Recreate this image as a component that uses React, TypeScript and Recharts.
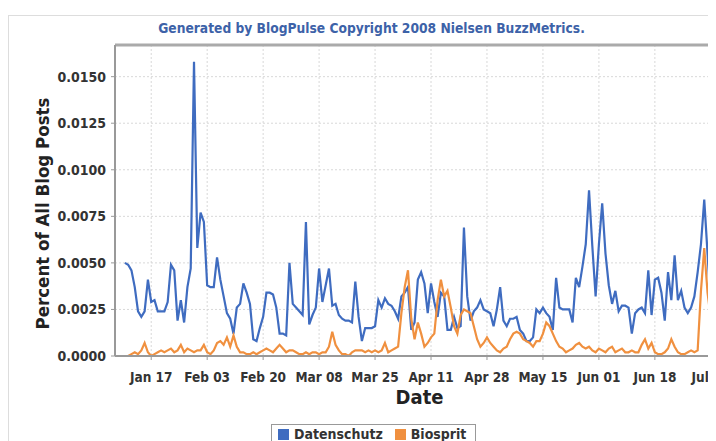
import {
  LineChart,
  Line,
  XAxis,
  YAxis,
  CartesianGrid,
  Legend,
  ReferenceLine,
} from "recharts";

const FONT = "'DejaVu Sans Condensed', 'DejaVu Sans', sans-serif";

// days are counted from Jan 17 (2008)
const tickDays = [0, 17, 34, 51, 68, 85, 102, 119, 136, 153, 170];
const tickLabels = [
  "Jan 17", "Feb 03", "Feb 20", "Mar 08", "Mar 25", "Apr 11",
  "Apr 28", "May 15", "Jun 01", "Jun 18", "Jul 05",
];
const yTicks = [0, 0.0025, 0.005, 0.0075, 0.01, 0.0125, 0.015];
const yMax = 0.0167;
const firstDay = -8; // Jan 09
const seriesOrder = ["Datenschutz", "Biosprit"];

const datenschutz = [
  0.0050, 0.0049, 0.0046, 0.0037, 0.0024, 0.0021, 0.0024, 0.0041,
  0.0029, 0.0030, 0.0024, 0.0024, 0.0024, 0.0029, 0.0049, 0.0046, 0.0019, 0.0030,
  0.0018, 0.0037, 0.0047, 0.0158, 0.0058, 0.0077, 0.0072, 0.0038, 0.0037, 0.0037,
  0.0053, 0.0041, 0.0032, 0.0023, 0.0020, 0.0012, 0.0026, 0.0028, 0.0039, 0.0034,
  0.0028, 0.0009, 0.0008, 0.0015, 0.0021, 0.0034, 0.0034, 0.0033, 0.0026, 0.0012,
  0.0012, 0.0011, 0.0050, 0.0028, 0.0026, 0.0024, 0.0022, 0.0072, 0.0017, 0.0022,
  0.0026, 0.0047, 0.0029, 0.0038, 0.0047, 0.0027, 0.0028, 0.0022, 0.0020, 0.0019,
  0.0019, 0.0018, 0.0040, 0.0021, 0.0008, 0.0015, 0.0015, 0.0015, 0.0016, 0.0030,
  0.0026, 0.0031, 0.0028, 0.0027, 0.0024, 0.0020, 0.0032, 0.0034, 0.0037, 0.0014,
  0.0018, 0.0041, 0.0045, 0.0039, 0.0023, 0.0039, 0.0029, 0.0021, 0.0034, 0.0032,
  0.0014, 0.0014, 0.0021, 0.0015, 0.0016, 0.0069, 0.0032, 0.0019, 0.0024, 0.0026,
  0.0030, 0.0025, 0.0024, 0.0023, 0.0016, 0.0025, 0.0037, 0.0019, 0.0016, 0.0020,
  0.0020, 0.0021, 0.0014, 0.0012, 0.0008, 0.0008, 0.0010, 0.0025, 0.0023, 0.0026,
  0.0023, 0.0021, 0.0014, 0.0042, 0.0026, 0.0025, 0.0025, 0.0025, 0.0018, 0.0042,
  0.0037, 0.0048, 0.0060, 0.0089, 0.0059, 0.0032, 0.0060, 0.0082, 0.0055, 0.0038,
  0.0028, 0.0035, 0.0024, 0.0027, 0.0027, 0.0026, 0.0012, 0.0023, 0.0025, 0.0026,
  0.0023, 0.0046, 0.0022, 0.0041, 0.0042, 0.0034, 0.0019, 0.0045, 0.0030, 0.0054,
  0.0030, 0.0035, 0.0026, 0.0023, 0.0026, 0.0032, 0.0045, 0.0060, 0.0084, 0.0055,
  0.0026,
];

const biosprit = [
  0.0000, 0.0000, 0.0001, 0.0002, 0.0001, 0.0003, 0.0007, 0.0002,
  0.0000, 0.0001, 0.0002, 0.0003, 0.0002, 0.0003, 0.0004, 0.0002, 0.0003, 0.0006,
  0.0002, 0.0004, 0.0003, 0.0002, 0.0003, 0.0003, 0.0006, 0.0002, 0.0001, 0.0003,
  0.0007, 0.0008, 0.0006, 0.0010, 0.0005, 0.0011, 0.0005, 0.0002, 0.0002, 0.0001,
  0.0001, 0.0002, 0.0001, 0.0002, 0.0003, 0.0004, 0.0003, 0.0002, 0.0004, 0.0006,
  0.0004, 0.0002, 0.0003, 0.0003, 0.0002, 0.0001, 0.0001, 0.0002, 0.0001, 0.0002,
  0.0002, 0.0001, 0.0002, 0.0002, 0.0005, 0.0013, 0.0006, 0.0003, 0.0001, 0.0001,
  0.0000, 0.0002, 0.0003, 0.0003, 0.0003, 0.0002, 0.0003, 0.0002, 0.0003, 0.0002,
  0.0003, 0.0007, 0.0002, 0.0003, 0.0004, 0.0005, 0.0023, 0.0037, 0.0046, 0.0020,
  0.0009, 0.0018, 0.0012, 0.0005, 0.0007, 0.0010, 0.0012, 0.0030, 0.0041, 0.0032,
  0.0035, 0.0026, 0.0016, 0.0012, 0.0022, 0.0025, 0.0024, 0.0023, 0.0016, 0.0009,
  0.0005, 0.0007, 0.0010, 0.0007, 0.0005, 0.0003, 0.0002, 0.0004, 0.0005, 0.0009,
  0.0012, 0.0013, 0.0012, 0.0009, 0.0008, 0.0007, 0.0005, 0.0008, 0.0008, 0.0012,
  0.0018, 0.0016, 0.0012, 0.0008, 0.0005, 0.0004, 0.0002, 0.0003, 0.0004, 0.0006,
  0.0007, 0.0005, 0.0004, 0.0005, 0.0003, 0.0002, 0.0004, 0.0003, 0.0002, 0.0004,
  0.0005, 0.0002, 0.0003, 0.0004, 0.0002, 0.0002, 0.0003, 0.0002, 0.0002, 0.0006,
  0.0009, 0.0004, 0.0007, 0.0002, 0.0001, 0.0001, 0.0002, 0.0004, 0.0009, 0.0005,
  0.0002, 0.0001, 0.0001, 0.0002, 0.0003, 0.0002, 0.0003, 0.0035, 0.0058, 0.0034,
  0.0020,
];

const data = datenschutz.map((v, i) => ({
  day: firstDay + i,
  datenschutz: v,
  biosprit: biosprit[i],
}));

const BLUE = "#3f6cc0";
const ORANGE = "#f0903f";

const DateLabel = ({ viewBox }: any) => (
  <text
    x={viewBox.x + viewBox.width / 2}
    y={viewBox.y + 48}
    textAnchor="middle"
    fontFamily={FONT}
    fontWeight="bold"
    fontSize={20}
    fill="#222"
  >
    Date
  </text>
);

const PercentLabel = ({ viewBox }: any) => {
  const cx = 34;
  const cy = viewBox.y + viewBox.height / 2 + 13;
  return (
    <text
      x={cx}
      y={cy}
      transform={`rotate(-90 ${cx} ${cy})`}
      textAnchor="middle"
      dominantBaseline="central"
      fontFamily={FONT}
      fontWeight="bold"
      fontSize={18.5}
      fill="#222"
    >
      Percent of All Blog Posts
    </text>
  );
};

const LegendBox = ({ payload }: any) => {
  const items = [...(payload || [])].sort(
    (a: any, b: any) => seriesOrder.indexOf(a.value) - seriesOrder.indexOf(b.value)
  );
  return (
    <div
      style={{
        display: "flex",
        alignItems: "center",
        border: "1px solid #999",
        padding: "1px 9px 1px 6px",
        fontFamily: FONT,
        fontWeight: "bold",
        fontSize: 14,
        color: "#333",
        background: "#fff",
      }}
    >
      {items.map((p: any, i: number) => (
        <span key={i} style={{ display: "flex", alignItems: "center", marginRight: i === 0 ? 12 : 0 }}>
          <span style={{ width: 11, height: 11, background: p.color, marginRight: 5 }} />
          {p.value}
        </span>
      ))}
    </div>
  );
};

export default function App() {
  return (
    <div style={{ position: "relative", width: 708, height: 433, overflow: "hidden", background: "#fff" }}>
      <div
        style={{
          position: "absolute",
          left: 0,
          top: 7,
          width: 760,
          height: 500,
          border: "1px solid #ddd",
        }}
      />
      <div
        style={{
          position: "absolute",
          top: 12,
          left: 0,
          width: 727,
          textAlign: "center",
          fontFamily: FONT,
          fontWeight: "bold",
          fontSize: 13.7,
          color: "#3d62a8",
        }}
      >
        Generated by BlogPulse Copyright 2008 Nielsen BuzzMetrics.
      </div>
      <div style={{ position: "absolute", left: 0, top: 0 }}>
        <LineChart
          width={740}
          height={433}
          data={data}
          margin={{ top: 37, right: 24, bottom: 25, left: 0 }}
        >
          <CartesianGrid stroke="#d8d8d8" strokeDasharray="2 2" />
          <XAxis
            type="number"
            dataKey="day"
            domain={[-11, 174]}
            allowDataOverflow
            ticks={tickDays}
            interval={0}
            tickFormatter={(d: number) => tickLabels[tickDays.indexOf(d)]}
            height={60}
            tickSize={4}
            tickMargin={12}
            axisLine={{ stroke: "#999", strokeWidth: 2 }}
            tickLine={{ stroke: "#999" }}
            tick={{ fill: "#333", fontSize: 13.5, fontWeight: "bold", fontFamily: FONT }}
            label={{ content: DateLabel }}
          />
          <YAxis
            domain={[0, yMax]}
            allowDataOverflow
            ticks={yTicks}
            interval={0}
            tickFormatter={(v: number) => v.toFixed(4)}
            width={107}
            tickSize={4}
            tickMargin={5}
            axisLine={{ stroke: "#999", strokeWidth: 2 }}
            tickLine={{ stroke: "#999" }}
            tick={{ fill: "#333", fontSize: 14, fontWeight: "bold", fontFamily: FONT }}
            label={{ content: PercentLabel }}
          />
          <ReferenceLine y={yMax} stroke="#aaa" strokeWidth={3} />
          <Legend
            verticalAlign="middle"
            align="center"
            content={<LegendBox />}
            wrapperStyle={{ top: 416, left: 263, width: "auto" }}
          />
          <Line
            type="linear"
            dataKey="datenschutz"
            name="Datenschutz"
            stroke={BLUE}
            strokeWidth={2.2}
            dot={false}
            isAnimationActive={false}
            legendType="square"
          />
          <Line
            type="linear"
            dataKey="biosprit"
            name="Biosprit"
            stroke={ORANGE}
            strokeWidth={2.2}
            dot={false}
            isAnimationActive={false}
            legendType="square"
          />
        </LineChart>
      </div>
    </div>
  );
}
